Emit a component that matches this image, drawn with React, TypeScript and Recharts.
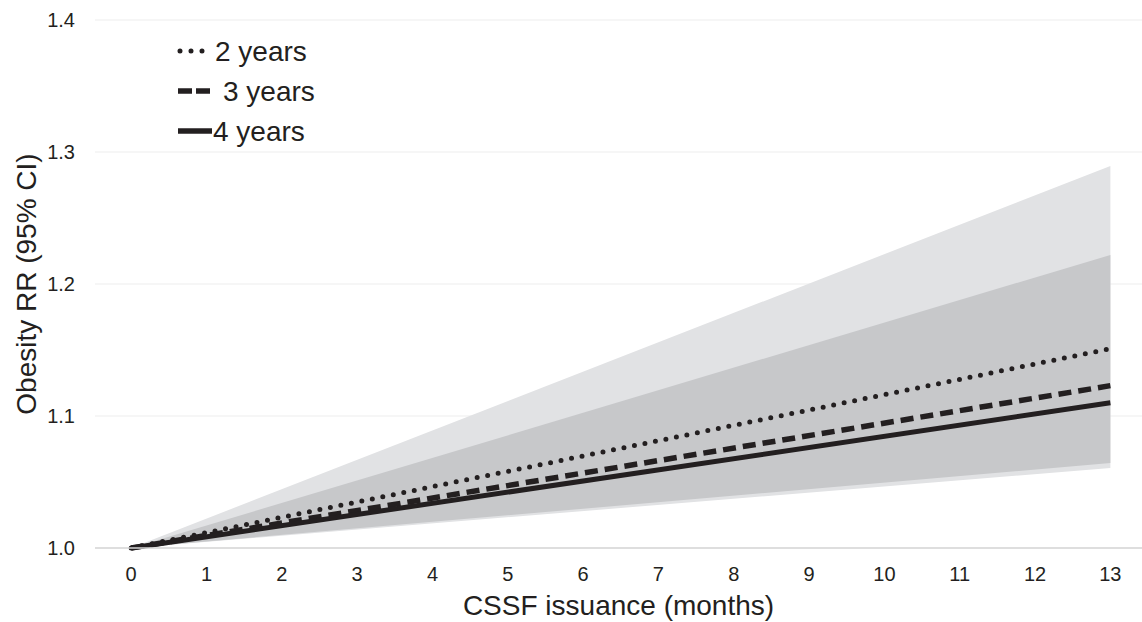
import { ComposedChart, Line, Area, XAxis, YAxis, CartesianGrid, Legend } from 'recharts';

const months = [0, 13];
const rr2 = [1.0, 1.151];
const rr3 = [1.0, 1.123];
const rr4 = [1.0, 1.11];
const ci2Low = [1.0, 1.0606];
const ci2High = [1.0, 1.2894];
const ci3Low = [1.0, 1.0644];
const ci3High = [1.0, 1.222];
const xTicks = [0, 1, 2, 3, 4, 5, 6, 7, 8, 9, 10, 11, 12, 13];
const yTicks = [1.0, 1.1, 1.2, 1.3, 1.4];

const legendItems = [
  { label: '2 years', dash: '0 11', cap: 'round', width: 5, x1: 180, x2: 203, textX: 215 },
  { label: '3 years', dash: '14 4', cap: 'butt', width: 5.5, x1: 178, x2: 210, textX: 223 },
  { label: '4 years', dash: undefined, cap: 'butt', width: 5.5, x1: 178, x2: 212, textX: 213 },
];

const data = months.map((m, i) => ({
  month: m,
  y2: rr2[i],
  y3: rr3[i],
  y4: rr4[i],
  band2: [ci2Low[i], ci2High[i]],
  band3: [ci3Low[i], ci3High[i]],
}));

const ink = '#231f20';
const font = '"Liberation Sans", Arial, Helvetica, sans-serif';

function LegendBox() {
  return (
    <svg width={200} height={130} style={{ overflow: 'visible' }}>
      {legendItems.map((it, i) => {
        const y = 23 + i * 40;
        return (
          <g key={it.label}>
            <line
              x1={it.x1 - 170}
              x2={it.x2 - 170}
              y1={y}
              y2={y}
              stroke={ink}
              strokeWidth={it.width}
              strokeDasharray={it.dash}
              strokeLinecap={it.cap as any}
            />
            <text x={it.textX - 170} y={y} dy="0.36em" fontSize={28} fill={ink} fontFamily={font}>
              {it.label}
            </text>
          </g>
        );
      })}
    </svg>
  );
}

export default function App() {
  return (
    <div style={{ position: 'absolute', left: 0, top: 0, width: 1142, height: 622, background: '#fff', fontFamily: font }}>
      <ComposedChart width={1142} height={622} data={data} margin={{ top: 20, right: 0, bottom: 0, left: 0 }}>
        <CartesianGrid vertical={false} stroke="#eeeeee" strokeWidth={1.2} />
        <XAxis
          dataKey="month"
          type="number"
          domain={[-0.48, 13.42]}
          ticks={xTicks}
          allowDataOverflow
          height={74}
          tickLine={false}
          tickSize={0}
          tickMargin={19}
          axisLine={{ stroke: '#d6d6d6', strokeWidth: 1.5 }}
          tick={{ fontSize: 20, fill: ink, fontFamily: font }}
          label={{ value: 'CSSF issuance (months)', position: 'insideBottom', offset: 7, fontSize: 28, fill: ink, fontFamily: font }}
        />
        <YAxis
          type="number"
          domain={[1.0, 1.4]}
          ticks={yTicks}
          width={95}
          tickLine={false}
          axisLine={false}
          tickSize={0}
          tickMargin={20}
          tickFormatter={(v: number) => v.toFixed(1)}
          tick={{ fontSize: 20, fill: ink, fontFamily: font }}
          label={{
            value: 'Obesity RR (95% CI)',
            angle: -90,
            position: 'insideLeft',
            offset: 26,
            fontSize: 28,
            fill: ink,
            fontFamily: font,
            style: { textAnchor: 'middle' },
          }}
        />
        <Area dataKey="band2" type="linear" stroke="none" fill="#e1e2e4" fillOpacity={1} isAnimationActive={false} />
        <Area dataKey="band3" type="linear" stroke="none" fill="#c7c8ca" fillOpacity={1} isAnimationActive={false} />
        <Line dataKey="y2" type="linear" stroke={ink} strokeWidth={5} strokeDasharray="0 10.7" strokeLinecap="round" dot={false} isAnimationActive={false} />
        <Line dataKey="y3" type="linear" stroke={ink} strokeWidth={5.5} strokeDasharray="13 7" dot={false} isAnimationActive={false} />
        <Line dataKey="y4" type="linear" stroke={ink} strokeWidth={5} dot={false} isAnimationActive={false} />
        <Legend
          layout="vertical"
          align="center"
          verticalAlign="middle"
          content={() => <LegendBox />}
          wrapperStyle={{ left: 170, top: 28, width: 200, height: 130 }}
        />
      </ComposedChart>
    </div>
  );
}
